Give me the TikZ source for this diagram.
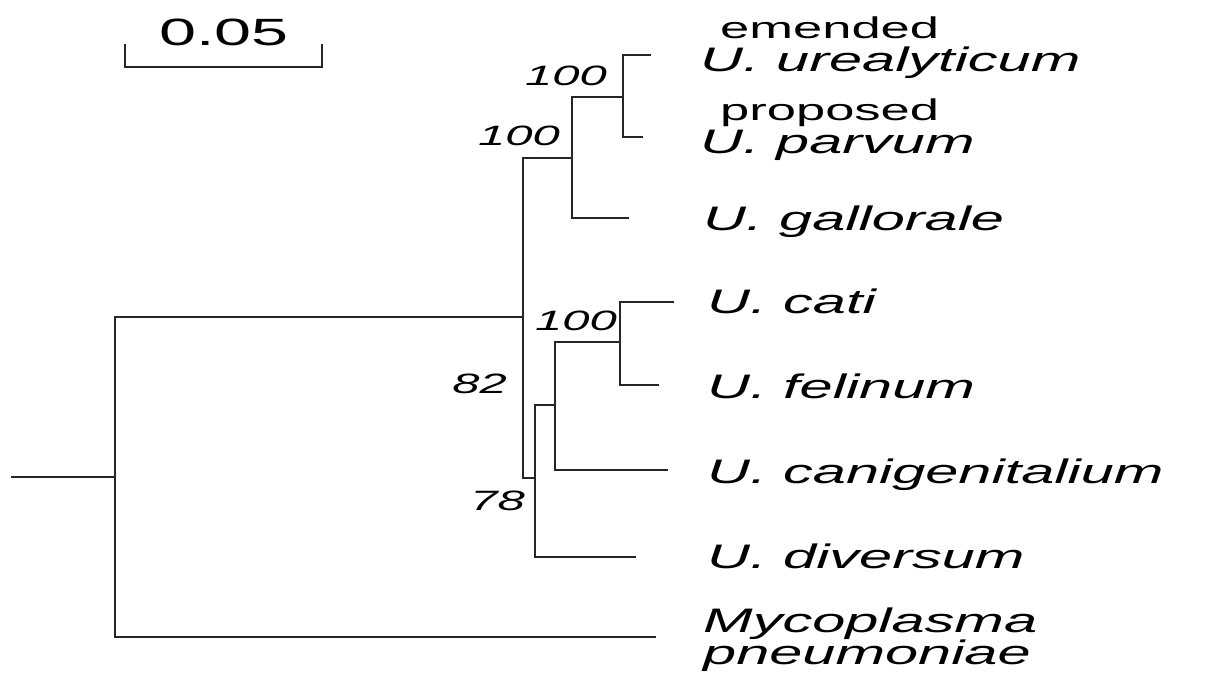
\documentclass[tikz,border=0pt]{standalone}
\usepackage{fontspec}
\newfontfamily\labfont{Liberation Sans}[FakeStretch=1.75]
\begin{document}
\begin{tikzpicture}[x=1pt,y=-1pt,
  branch/.style={line width=2pt,line cap=rect,black!85},
  taxon/.style={anchor=base west,inner sep=0pt,font=\labfont\itshape\fontsize{34}{38}\selectfont},
  note/.style={anchor=base west,inner sep=0pt,font=\labfont\fontsize{30}{34}\selectfont},
  boot/.style={anchor=base east,inner sep=0pt,font=\labfont\itshape\fontsize{28}{32}\selectfont},
  scalelab/.style={anchor=base,inner sep=0pt,font=\labfont\fontsize{38}{42}\selectfont}]
\useasboundingbox (0,0) rectangle (1207,672);

% scale bar
\coordinate (sbL) at (125,67);
\coordinate (sbR) at (322,67);
\coordinate (sbLt) at (125,45);
\coordinate (sbRt) at (322,45);
\draw[branch] (sbLt) -- (sbL) -- (sbR) -- (sbRt);
\node[scalelab] (sblab) at (224,45) {0.05};

% internal nodes and tips
\coordinate (r0) at (12,477);
\coordinate (r) at (115,477);
\coordinate (rU) at (115,317);
\coordinate (rM) at (115,637);
\coordinate (u) at (523,317);
\coordinate (uT) at (523,158);
\coordinate (uB) at (523,478);
\coordinate (a) at (572,158);
\coordinate (aT) at (572,97);
\coordinate (aB) at (572,218);
\coordinate (b) at (623,97);
\coordinate (bT) at (623,55);
\coordinate (bB) at (623,137);
\coordinate (t1) at (650,55);
\coordinate (t2) at (642,137);
\coordinate (t3) at (628,218);
\coordinate (c) at (535,478);
\coordinate (cT) at (535,405);
\coordinate (cB) at (535,557);
\coordinate (d) at (555,405);
\coordinate (dT) at (555,342);
\coordinate (dB) at (555,470);
\coordinate (e) at (620,342);
\coordinate (eT) at (620,302);
\coordinate (eB) at (620,385);
\coordinate (t4) at (673,302);
\coordinate (t5) at (658,385);
\coordinate (t6) at (667,470);
\coordinate (t7) at (635,557);
\coordinate (t8) at (655,637);

% branches
\draw[branch] (r0) -- (r);
\draw[branch] (rU) -- (rM);
\draw[branch] (rU) -- (u);
\draw[branch] (rM) -- (t8);
\draw[branch] (uT) -- (uB);
\draw[branch] (uT) -- (a);
\draw[branch] (aT) -- (aB);
\draw[branch] (aT) -- (b);
\draw[branch] (bT) -- (bB);
\draw[branch] (bT) -- (t1);
\draw[branch] (bB) -- (t2);
\draw[branch] (aB) -- (t3);
\draw[branch] (uB) -- (c);
\draw[branch] (cT) -- (cB);
\draw[branch] (cB) -- (t7);
\draw[branch] (cT) -- (d);
\draw[branch] (dT) -- (dB);
\draw[branch] (dB) -- (t6);
\draw[branch] (dT) -- (e);
\draw[branch] (eT) -- (eB);
\draw[branch] (eT) -- (t4);
\draw[branch] (eB) -- (t5);

% bootstrap values
\node[boot] (bs1) at (607,85) {100};
\node[boot] (bs2) at (560,145) {100};
\node[boot] (bs3) at (617,330) {100};
\node[boot] (bs4) at (507,393) {82};
\node[boot] (bs5) at (525,510) {78};

% taxon names
\node[note] (n1) at (720,38) {emended};
\node[taxon] (s1) at (700,71) {U. urealyticum};
\node[note] (n2) at (720,120) {proposed};
\node[taxon] (s2) at (700,153) {U. parvum};
\node[taxon] (s3) at (703,230) {U. gallorale};
\node[taxon] (s4) at (707,313) {U. cati};
\node[taxon] (s5) at (707,398) {U. felinum};
\node[taxon] (s6) at (707,483) {U. canigenitalium};
\node[taxon] (s7) at (707,568) {U. diversum};
\node[taxon] (s8) at (703,632) {Mycoplasma};
\node[taxon] (s9) at (703,664) {pneumoniae};
\end{tikzpicture}
\end{document}
